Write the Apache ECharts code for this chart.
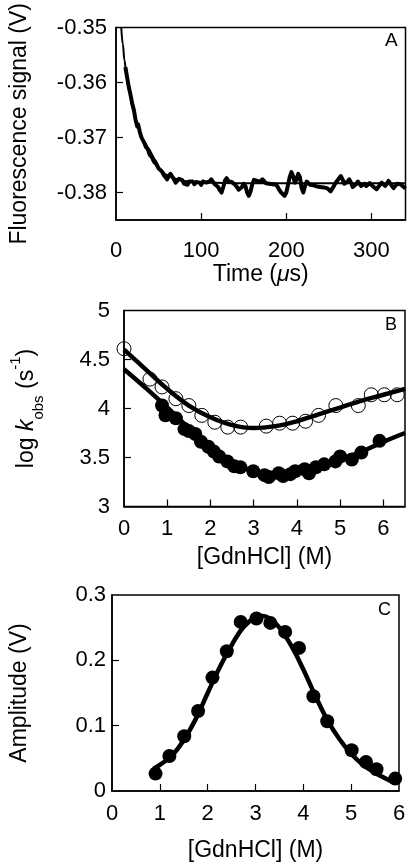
<!DOCTYPE html>
<html><head><meta charset="utf-8">
<script src="https://cdn.jsdelivr.net/npm/echarts@6/dist/echarts.min.js"></script>
<style>html,body{margin:0;padding:0;background:#fff}#c{width:410px;height:865px}</style>
</head><body><div id="c"></div>
<script>
// Panel A: fluorescence trace
const traceTime = [11,13,15,17,19,21,23,25,26,28,30,32,34,36,38,40,42,44,46,48,50,52,54,56,58,60,
62,64,66,68,70,72,74,76,78,80,82,84,86,88,90,92,94,96,98,100,102,104,106,108,110,112,114,116,118,120,
122,124,126,128,130,132,134,136,138,140,142,144,146,148,150,152,154,156,158,160,162,164,166,168,170,
172,174,176,178,180,182,184,186,188,190,192,194,196,198,200,202,204,206,208,210,212,214,216,218,220,
222,224,226,228,230,232,234,236,238,240,242,244,246,248,250,252,254,256,258,260,262,264,266,268,270,
272,274,276,278,280,282,284,286,288,290,292,294,296,298,300,302,304,306,308,310,312,314,316,318,320,
322,324,326,328,330,332,334,336,338,340];
const traceSignal = [-0.3572,-0.3590,-0.3608,-0.3622,-0.3638,-0.3650,-0.3668,-0.3680,-0.3676,-0.3690,-0.3700,-0.3706,-0.3712,-0.3718,-0.3722,-0.3728,-0.3734,-0.3740,-0.3744,-0.3750,-0.3756,-0.3758,-0.3762,-0.3768,-0.3772,-0.3776,
-0.3770,-0.3766,-0.3764,-0.3776,-0.3782,-0.3779,-0.3775,-0.3772,-0.3778,-0.3784,-0.3781,-0.3786,-0.3780,-0.3777,-0.3780,-0.3785,-0.3781,-0.3778,-0.3782,-0.3786,-0.3780,-0.3778,-0.3782,-0.3785,-0.3780,-0.3776,-0.3779,-0.3785,-0.3783,-0.3790,
-0.3796,-0.3800,-0.3790,-0.3778,-0.3774,-0.3780,-0.3783,-0.3781,-0.3784,-0.3786,-0.3790,-0.3795,-0.3798,-0.3790,-0.3784,-0.3788,-0.3800,-0.3806,-0.3798,-0.3785,-0.3777,-0.3775,-0.3779,-0.3777,-0.3780,
-0.3776,-0.3778,-0.3783,-0.3786,-0.3784,-0.3787,-0.3785,-0.3788,-0.3786,-0.3790,-0.3796,-0.3800,-0.3803,-0.3806,-0.3800,-0.3786,-0.3772,-0.3763,-0.3770,-0.3782,-0.3776,-0.3766,-0.3772,-0.3792,-0.3800,
-0.3788,-0.3780,-0.3783,-0.3786,-0.3784,-0.3787,-0.3786,-0.3789,-0.3787,-0.3790,-0.3788,-0.3791,-0.3789,-0.3792,-0.3795,-0.3798,-0.3793,-0.3788,-0.3782,-0.3778,-0.3774,-0.3770,-0.3776,-0.3784,-0.3786,
-0.3780,-0.3776,-0.3782,-0.3790,-0.3791,-0.3785,-0.3780,-0.3783,-0.3788,-0.3786,-0.3784,-0.3788,-0.3786,-0.3783,-0.3786,-0.3789,-0.3792,-0.3794,-0.3790,-0.3786,-0.3782,-0.3784,-0.3788,-0.3784,-0.3779,
-0.3782,-0.3788,-0.3792,-0.3788,-0.3784,-0.3781,-0.3785,-0.3787,-0.3790,-0.3793];
const fitTimeA = [6.2,8,10,12,15,20,25,30,35,40,45,50,60,70,80,100,150,200,250,300,340];
const fitSignalA = [-0.3500,-0.3530,-0.3560,-0.3583,-0.3612,-0.3648,-0.3678,-0.3701,-0.3720,-0.3735,-0.3747,-0.3756,-0.3768,-0.3775,-0.3779,-0.3782,-0.3783,-0.3783,-0.3783,-0.3783,-0.3783];
const ticksA_x = [0,100,200,300];
const ticksA_y = [-0.38,-0.37,-0.36,-0.35];

// Panel B: chevron plot
const openGdn = [0.0,0.60,0.88,1.20,1.50,1.80,2.10,2.40,2.70,3.29,3.60,3.90,4.20,4.50,4.90,5.42,5.72,6.02,6.32];
const openLogK = [4.61,4.30,4.22,4.10,4.03,3.93,3.86,3.81,3.81,3.82,3.85,3.85,3.87,3.93,4.03,4.03,4.14,4.14,4.14];
const filledGdn = [0.88,0.96,1.20,1.40,1.50,1.65,1.78,1.95,2.08,2.20,2.39,2.55,2.69,2.99,3.25,3.35,3.58,3.68,3.85,3.96,4.18,4.28,4.44,4.63,4.89,5.00,5.27,5.49,5.91];
const filledLogK = [4.03,3.93,3.90,3.79,3.77,3.74,3.66,3.61,3.56,3.51,3.46,3.41,3.40,3.36,3.32,3.30,3.34,3.31,3.33,3.36,3.38,3.34,3.40,3.43,3.46,3.51,3.48,3.55,3.67];
const fitGdnB = [0,0.5,1.0,1.5,2.0,2.5,3.0,3.5,4.0,4.5,5.0,5.5,6.0,6.5];
const fitUpperB = [4.60,4.40,4.20,4.03,3.91,3.83,3.80,3.82,3.87,3.94,4.01,4.08,4.14,4.20];
const fitLowerB = [4.40,4.21,4.01,3.80,3.61,3.45,3.36,3.32,3.34,3.41,3.48,3.56,3.66,3.75];
const ticksB_x = [0,1,2,3,4,5,6];
const ticksB_y = [3,3.5,4,4.5,5];

// Panel C: amplitude
const ampGdn = [0.91,1.20,1.51,1.80,2.10,2.40,2.69,3.02,3.31,3.62,3.91,4.21,4.50,5.01,5.31,5.53,5.92];
const ampVal = [0.0266,0.0536,0.0838,0.1225,0.1736,0.214,0.2588,0.264,0.2573,0.2435,0.219,0.145,0.1067,0.0623,0.0444,0.0332,0.019];
const fitGdnC = [0.87,1.0,1.25,1.5,1.75,2.0,2.25,2.5,2.75,3.0,3.15,3.3,3.5,3.75,4.0,4.25,4.5,4.75,5.0,5.25,5.5,5.75,5.92];
const fitAmpC = [0.034,0.040,0.054,0.078,0.110,0.150,0.189,0.223,0.251,0.266,0.268,0.264,0.250,0.222,0.186,0.146,0.109,0.080,0.057,0.040,0.028,0.018,0.013];
const ticksC_x = [0,1,2,3,4,5,6];
const ticksC_y = [0,0.1,0.2,0.3];

const F = "'Liberation Sans', Arial, Helvetica, sans-serif";
const zip = (a, b) => a.map((v, i) => [v, b[i]]);
const frame = {show: true, borderColor: '#000', borderWidth: 1.5, backgroundColor: '#fff'};
function axis(gi, min, max, tickVals, labelVals, margin, extra) {
  return Object.assign({
    gridIndex: gi, type: 'value', min: min, max: max,
    axisLine: {show: true, onZero: false, lineStyle: {color: '#000', width: 1.5}},
    axisTick: {show: true, inside: true, length: 7, customValues: tickVals, lineStyle: {color: '#000', width: 1.2}},
    axisLabel: {customValues: labelVals, margin: margin, fontSize: 22, color: '#000', fontFamily: F},
    splitLine: {show: false}
  }, extra || {});
}
const nameStyle = {fontSize: 23, color: '#000', fontFamily: F};

const chart = echarts.init(document.getElementById('c'), null, {renderer: 'canvas'});
chart.setOption({
  animation: false,
  backgroundColor: '#fff',
  grid: [
    Object.assign({left: 113.5, top: 26, width: 292, height: 194}, frame),
    Object.assign({left: 114, top: 310.5, width: 291, height: 196}, frame),
    Object.assign({left: 108, top: 595, width: 291, height: 196}, frame)
  ],
  xAxis: [
    axis(0, 0, 340, [100,200,300], ticksA_x, 20, {
      name: 'Time ({i|μ}s)', nameLocation: 'middle', nameGap: 39,
      nameTextStyle: Object.assign({rich: {i: {fontStyle: 'italic', fontSize: 23, fontFamily: F, color: '#000'}}}, nameStyle)
    }),
    axis(1, 0, 6.5, [1,2,3,4,5,6], ticksB_x, 11, {
      name: '[GdnHCl] (M)', nameLocation: 'middle', nameGap: 40, nameTextStyle: nameStyle
    }),
    axis(2, 0, 6, [1,2,3,4,5], ticksC_x, 12, {
      name: '[GdnHCl] (M)', nameLocation: 'middle', nameGap: 48, nameTextStyle: nameStyle
    })
  ],
  yAxis: [
    axis(0, -0.385, -0.35, [-0.38,-0.37,-0.36], ticksA_y, 9, {
      name: 'Fluorescence signal (V)', nameLocation: 'middle', nameRotate: 90, nameGap: 85, nameTextStyle: nameStyle
    }),
    axis(1, 3, 5, [3.5,4,4.5], ticksB_y, 14, {
      name: '{n|log }{i|k}{sub|obs}{n| (s}{sup|-1}{n|)}', nameLocation: 'middle', nameRotate: 90, nameGap: 78,
      nameTextStyle: Object.assign({rich: {
        n: {fontSize: 23, fontFamily: F, color: '#000', lineHeight: 38, verticalAlign: 'middle'},
        i: {fontSize: 23, fontFamily: F, color: '#000', fontStyle: 'italic', lineHeight: 38, verticalAlign: 'middle'},
        sub: {fontSize: 15, fontFamily: F, color: '#000', lineHeight: 38, verticalAlign: 'bottom'},
        sup: {fontSize: 15, fontFamily: F, color: '#000', lineHeight: 38, verticalAlign: 'top'}
      }}, nameStyle)
    }),
    axis(2, 0, 0.3, [0.1,0.2], ticksC_y, 6, {
      name: 'Amplitude (V)', nameLocation: 'middle', nameRotate: 90, nameGap: 81, nameTextStyle: nameStyle
    })
  ],
  graphic: [
    {type: 'text', left: 385, top: 31, style: {text: 'A', fontSize: 19, fill: '#000', fontFamily: F}},
    {type: 'text', left: 385, top: 316, style: {text: 'B', fontSize: 18, fill: '#000', fontFamily: F}},
    {type: 'text', left: 378, top: 601, style: {text: 'C', fontSize: 18, fill: '#000', fontFamily: F}}
  ],
  series: [
    {type: 'line', xAxisIndex: 0, yAxisIndex: 0, data: zip(fitTimeA, fitSignalA), symbol: 'none', smooth: 0.4, smoothMonotone: 'x', lineStyle: {color: '#000', width: 2}},
    {type: 'line', xAxisIndex: 0, yAxisIndex: 0, data: zip(traceTime, traceSignal), symbol: 'none', lineStyle: {color: '#000', width: 4, join: 'round'}},
    {type: 'line', xAxisIndex: 1, yAxisIndex: 1, data: zip(fitGdnB, fitUpperB), symbol: 'none', smooth: 0.4, lineStyle: {color: '#000', width: 4.5}},
    {type: 'line', xAxisIndex: 1, yAxisIndex: 1, data: zip(fitGdnB, fitLowerB), symbol: 'none', smooth: 0.4, lineStyle: {color: '#000', width: 4.5}},
    {type: 'scatter', xAxisIndex: 1, yAxisIndex: 1, data: zip(openGdn, openLogK), symbol: 'circle', symbolSize: 14, itemStyle: {color: 'rgba(0,0,0,0)', borderColor: '#000', borderWidth: 1, opacity: 1}},
    {type: 'scatter', xAxisIndex: 1, yAxisIndex: 1, data: zip(filledGdn, filledLogK), symbol: 'circle', symbolSize: 14, itemStyle: {color: '#000', opacity: 1}},
    {type: 'line', xAxisIndex: 2, yAxisIndex: 2, data: zip(fitGdnC, fitAmpC), symbol: 'none', smooth: 0.4, lineStyle: {color: '#000', width: 4.5}},
    {type: 'scatter', xAxisIndex: 2, yAxisIndex: 2, data: zip(ampGdn, ampVal), symbol: 'circle', symbolSize: 14, itemStyle: {color: '#000', opacity: 1}}
  ]
});
</script>
</body></html>
